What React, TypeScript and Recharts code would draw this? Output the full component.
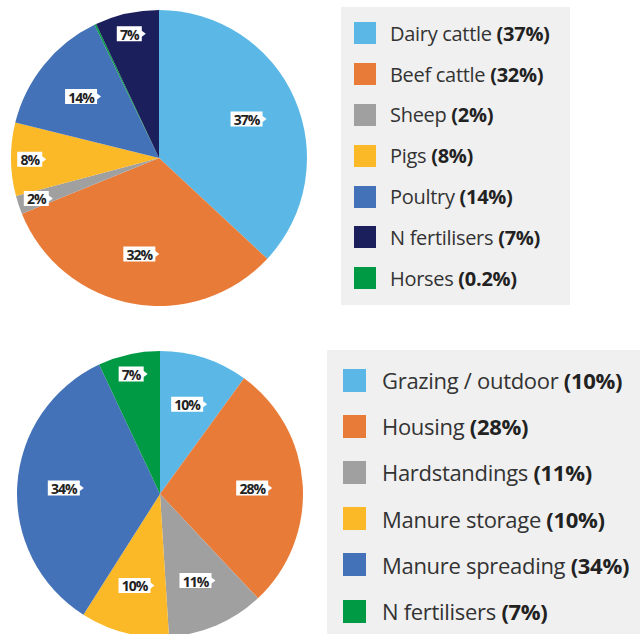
import React from "react";
import { PieChart, Pie, Cell, Legend } from "recharts";

const sourceNames = ["Dairy cattle", "Beef cattle", "Sheep", "Pigs", "Poultry", "Horses", "N fertilisers"];
const sourceValues = [37, 32, 2, 8, 14, 0.2, 7];
const sourceColors = ["#5bb8e6", "#e97b38", "#a0a0a0", "#fbb827", "#4472b8", "#009a44", "#1b1f5c"];
const sourceLegendOrder = [0, 1, 2, 3, 4, 6, 5];

const stageNames = ["Grazing / outdoor", "Housing", "Hardstandings", "Manure storage", "Manure spreading", "N fertilisers"];
const stageValues = [10, 28, 11, 10, 34, 7];
const stageColors = ["#5bb8e6", "#e97b38", "#a0a0a0", "#fbb827", "#4472b8", "#009a44"];
const stageLegendOrder = [0, 1, 2, 3, 4, 5];

const RADIAN = Math.PI / 180;
const FONT = "'Open Sans', 'Noto Sans', sans-serif";

function renderTag(props: any) {
  const { cx, cy, midAngle, outerRadius, percent, value } = props;
  if (value < 1) return null;
  const r = outerRadius * (percent < 0.09 ? 0.86 : 0.66);
  const x = cx + r * Math.cos(-midAngle * RADIAN);
  const y = cy + r * Math.sin(-midAngle * RADIAN);
  const text = `${value}%`;
  const w = (text.length - 1) * 7 + 18;
  const h = 15;
  const left = x - (w + 4) / 2;
  const top = y - h / 2;
  const pts = [
    [left, top],
    [left + w, top],
    [left + w, top + h / 2 - 3],
    [left + w + 4, top + h / 2],
    [left + w, top + h / 2 + 3],
    [left + w, top + h],
    [left, top + h],
  ]
    .map((p) => p.join(","))
    .join(" ");
  return (
    <g>
      <polygon points={pts} fill="#fff" />
      <text
        x={left + w / 2}
        y={y + 0.5}
        textAnchor="middle"
        dominantBaseline="central"
        fontFamily={FONT}
        fontWeight={700}
        fontSize={14}
        letterSpacing={-1}
        fill="#222"
      >
        {text}
      </text>
    </g>
  );
}

function makeLegend(names: string[], values: number[], colors: string[], order: number[], opts: any) {
  return () => (
    <div
      style={{
        background: "#f0f0f0",
        width: opts.width,
        height: opts.height,
        boxSizing: "border-box",
        paddingTop: opts.padTop,
        paddingLeft: opts.padLeft,
        fontFamily: FONT,
      }}
    >
      {order.map((i) => (
        <div key={names[i]} style={{ display: "flex", alignItems: "center", height: opts.rowH }}>
          <span
            style={{
              display: "inline-block",
              width: opts.sw,
              height: opts.sw,
              background: colors[i],
              marginRight: opts.gap,
              flexShrink: 0,
            }}
          />
          <span style={{ fontSize: opts.fontSize, color: "#333", whiteSpace: "nowrap", letterSpacing: -0.3 }}>
            {names[i]} <b style={{ color: "#222" }}>({values[i]}%)</b>
          </span>
        </div>
      ))}
    </div>
  );
}

export default function App() {
  const sources = sourceNames.map((name, i) => ({ name, value: sourceValues[i] }));
  const stages = stageNames.map((name, i) => ({ name, value: stageValues[i] }));

  return (
    <div style={{ position: "absolute", left: 0, top: 0, width: 640, height: 634, overflow: "hidden", background: "#fff" }}>
      <div style={{ position: "absolute", left: 0, top: 0 }}>
        <PieChart width={640} height={320} margin={{ top: 0, right: 0, bottom: 0, left: 0 }}>
          <Pie
            data={sources}
            dataKey="value"
            nameKey="name"
            cx={159}
            cy={158}
            outerRadius={148}
            startAngle={90}
            endAngle={-270}
            stroke="none"
            label={renderTag}
            labelLine={false}
            isAnimationActive={false}
          >
            {sources.map((d, i) => (
              <Cell key={d.name} fill={sourceColors[i]} />
            ))}
          </Pie>
          <Legend
            content={makeLegend(sourceNames, sourceValues, sourceColors, sourceLegendOrder, {
              width: 229,
              height: 298,
              padTop: 6,
              padLeft: 13,
              rowH: 40.8,
              sw: 22,
              gap: 14,
              fontSize: 20,
            })}
            wrapperStyle={{ position: "absolute", left: 341, top: 7, width: 229, height: 298 }}
          />
        </PieChart>
      </div>
      <div style={{ position: "absolute", left: 0, top: 340 }}>
        <PieChart width={640} height={294} margin={{ top: 0, right: 0, bottom: 0, left: 0 }}>
          <Pie
            data={stages}
            dataKey="value"
            nameKey="name"
            cx={160}
            cy={154}
            outerRadius={143}
            startAngle={90}
            endAngle={-270}
            stroke="none"
            label={renderTag}
            labelLine={false}
            isAnimationActive={false}
          >
            {stages.map((d, i) => (
              <Cell key={d.name} fill={stageColors[i]} />
            ))}
          </Pie>
          <Legend
            content={makeLegend(stageNames, stageValues, stageColors, stageLegendOrder, {
              width: 313,
              height: 294,
              padTop: 7,
              padLeft: 16,
              rowH: 46.2,
              sw: 23,
              gap: 16,
              fontSize: 22,
            })}
            wrapperStyle={{ position: "absolute", left: 327, top: 10, width: 313, height: 294 }}
          />
        </PieChart>
      </div>
    </div>
  );
}
